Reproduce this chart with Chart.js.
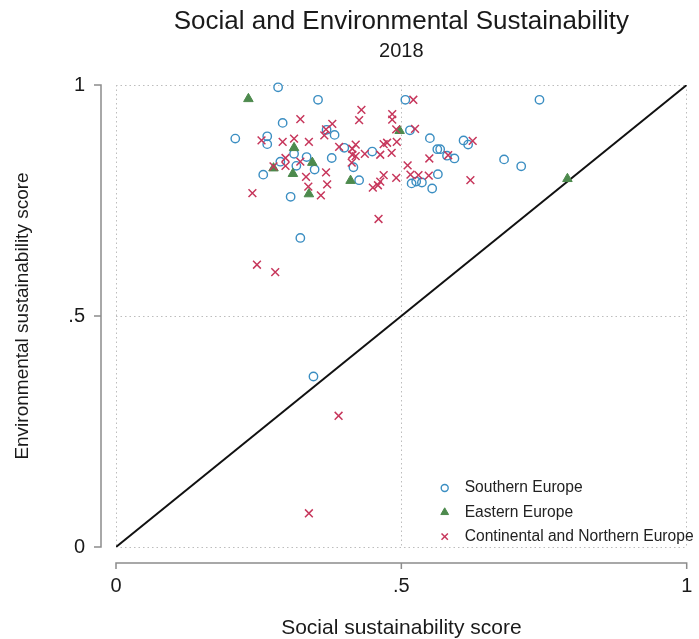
<!DOCTYPE html>
<html>
<head>
<meta charset="utf-8">
<script src="https://cdn.jsdelivr.net/npm/chart.js@4.4.0/dist/chart.umd.min.js"></script>
<style>
  html, body { margin: 0; padding: 0; background: #fff; }
  #wrap { width: 699px; height: 639px; }
</style>
</head>
<body>
<div id="wrap"><canvas id="scatter"></canvas></div>
<script>
// Southern Europe
const southernX = [0.284, 0.354, 0.507, 0.742, 0.292, 0.515, 0.369, 0.383, 0.209, 0.265,
                   0.265, 0.550, 0.609, 0.617, 0.400, 0.563, 0.568, 0.449, 0.312, 0.334,
                   0.378, 0.580, 0.593, 0.680, 0.710, 0.288, 0.316, 0.348, 0.416, 0.258,
                   0.426, 0.518, 0.526, 0.536, 0.564, 0.554, 0.306, 0.323, 0.346];
const southernY = [0.995, 0.968, 0.968, 0.968, 0.918, 0.902, 0.903, 0.892, 0.884, 0.889,
                   0.872, 0.885, 0.880, 0.871, 0.864, 0.861, 0.861, 0.856, 0.851, 0.844,
                   0.842, 0.847, 0.841, 0.839, 0.824, 0.834, 0.825, 0.817, 0.822, 0.806,
                   0.794, 0.787, 0.791, 0.789, 0.807, 0.776, 0.758, 0.669, 0.369];

// Eastern Europe
const easternX = [0.232, 0.312, 0.344, 0.310, 0.497, 0.411, 0.338, 0.791, 0.276];
const easternY = [0.970, 0.864, 0.832, 0.808, 0.901, 0.793, 0.764, 0.797, 0.820];

// Continental and Northern Europe
const continentalX = [0.521, 0.430, 0.484, 0.484, 0.323, 0.426, 0.379, 0.368, 0.365, 0.491,
                      0.524, 0.255, 0.292, 0.312, 0.338, 0.391, 0.420, 0.414, 0.469, 0.475,
                      0.492, 0.625, 0.483, 0.463, 0.414, 0.420, 0.436, 0.549, 0.582, 0.297,
                      0.323, 0.276, 0.297, 0.413, 0.511, 0.368, 0.333, 0.370, 0.337, 0.359,
                      0.239, 0.469, 0.491, 0.516, 0.530, 0.548, 0.621, 0.450, 0.459, 0.463,
                      0.460, 0.247, 0.279, 0.390, 0.338];
const continentalY = [0.968, 0.946, 0.937, 0.925, 0.926, 0.924, 0.916, 0.904, 0.891, 0.904,
                      0.905, 0.880, 0.877, 0.884, 0.877, 0.866, 0.871, 0.862, 0.872, 0.875,
                      0.877, 0.879, 0.853, 0.849, 0.849, 0.846, 0.851, 0.841, 0.848, 0.842,
                      0.834, 0.824, 0.825, 0.832, 0.826, 0.811, 0.801, 0.785, 0.780, 0.761,
                      0.766, 0.805, 0.799, 0.806, 0.805, 0.804, 0.794, 0.778, 0.783, 0.791,
                      0.710, 0.611, 0.595, 0.284, 0.073];

// 45 degree reference line
const diagX = [0, 1];
const diagY = [0, 1];

const axisTicks = [0, 0.5, 1];
const tickLabels = ['0', '.5', '1'];

const FONT = "'Liberation Sans', Arial, sans-serif";

function toPoints(xs, ys) {
    return xs.map((v, i) => ({x: v, y: ys[i]}));
}

// Stata style axes, drawn a little away from the plot region
const offsetAxes = {
    id: 'offsetAxes',
    afterDraw(chart) {
        const {ctx, chartArea, scales: {x, y}} = chart;
        const axisX = chartArea.left - 15;
        const axisY = chartArea.bottom + 16;
        ctx.save();
        ctx.strokeStyle = '#8c8c8c';
        ctx.lineWidth = 1.5;
        ctx.beginPath();
        ctx.moveTo(axisX, y.getPixelForValue(0));
        ctx.lineTo(axisX, y.getPixelForValue(1));
        axisTicks.forEach(v => {
            const py = y.getPixelForValue(v);
            ctx.moveTo(axisX + 0.75, py);
            ctx.lineTo(axisX - 7, py);
        });
        ctx.moveTo(x.getPixelForValue(0), axisY);
        ctx.lineTo(x.getPixelForValue(1), axisY);
        axisTicks.forEach(v => {
            const px = x.getPixelForValue(v);
            ctx.moveTo(px, axisY - 0.75);
            ctx.lineTo(px, axisY + 6);
        });
        ctx.stroke();
        ctx.restore();
    }
};

// legend inside the plot, bottom right
const cornerLegend = {
    id: 'cornerLegend',
    afterDraw(chart) {
        const {ctx, chartArea} = chart;
        const markerX = chartArea.right - 242;
        const textX = chartArea.right - 222;
        let rowY = chartArea.bottom - 59;
        ctx.save();
        chart.data.datasets.filter(ds => ds.legendRadius).forEach(ds => {
            ctx.fillStyle = ds.backgroundColor;
            ctx.strokeStyle = ds.borderColor;
            ctx.lineWidth = ds.borderWidth;
            Chart.helpers.drawPoint(ctx, {
                pointStyle: ds.pointStyle,
                radius: ds.legendRadius,
                borderWidth: ds.borderWidth,
                rotation: 0
            }, markerX, rowY);
            ctx.fillStyle = '#222';
            ctx.font = '15.6px ' + FONT;
            ctx.textAlign = 'left';
            ctx.textBaseline = 'middle';
            ctx.fillText(ds.label, textX, rowY);
            rowY += 24.3;
        });
        ctx.restore();
    }
};

new Chart(document.getElementById('scatter'), {
    type: 'scatter',
    data: {
        datasets: [
            {
                label: 'Southern Europe',
                data: toPoints(southernX, southernY),
                pointStyle: 'circle',
                pointRadius: 4.2,
                borderColor: '#3b8ec2',
                backgroundColor: 'rgba(0,0,0,0)',
                borderWidth: 1.4,
                legendRadius: 3.5,
                clip: false,
                order: 3
            },
            {
                label: 'Eastern Europe',
                data: toPoints(easternX, easternY),
                pointStyle: 'triangle',
                pointRadius: 5.5,
                borderColor: '#4d8a4d',
                backgroundColor: '#4d8a4d',
                borderWidth: 1,
                legendRadius: 4.5,
                clip: false,
                order: 2
            },
            {
                label: 'Continental and Northern Europe',
                data: toPoints(continentalX, continentalY),
                pointStyle: 'crossRot',
                pointRadius: 5.5,
                borderColor: '#c7375c',
                backgroundColor: '#c7375c',
                borderWidth: 1.5,
                legendRadius: 4.5,
                clip: false,
                order: 1
            },
            {
                type: 'line',
                label: 'diagonal',
                data: toPoints(diagX, diagY),
                borderColor: '#111',
                borderWidth: 2,
                pointRadius: 0,
                fill: false,
                order: 4
            }
        ]
    },
    options: {
        responsive: true,
        maintainAspectRatio: false,
        animation: false,
        events: [],
        layout: {
            padding: {left: 0, right: 12.3, top: 0, bottom: 0}
        },
        plugins: {
            legend: {display: false},
            tooltip: {enabled: false},
            title: {
                display: true,
                fullSize: false,
                text: 'Social and Environmental Sustainability',
                color: '#1a1a1a',
                font: {family: FONT, size: 26, weight: 'normal', lineHeight: 1.2},
                padding: {top: 6.5, bottom: 0}
            },
            subtitle: {
                display: true,
                fullSize: false,
                text: '2018',
                color: '#1a1a1a',
                font: {family: FONT, size: 20, weight: 'normal', lineHeight: 1.2},
                padding: {top: 2, bottom: 21.3}
            }
        },
        scales: {
            x: {
                type: 'linear',
                min: 0,
                max: 1,
                afterBuildTicks: s => { s.ticks = axisTicks.map(v => ({value: v})); },
                afterFit: s => { s.height = 92; },
                border: {display: false, dash: [1.5, 3]},
                grid: {color: '#bdbdbd', lineWidth: 1, drawTicks: true, tickLength: 27, tickColor: 'rgba(0,0,0,0)'},
                ticks: {
                    padding: 0,
                    color: '#1a1a1a',
                    font: {family: FONT, size: 20},
                    maxRotation: 0,
                    callback: (v, i) => tickLabels[i]
                },
                title: {
                    display: true,
                    text: 'Social sustainability score',
                    color: '#1a1a1a',
                    font: {family: FONT, size: 21, lineHeight: 1},
                    padding: {top: 0, bottom: 0}
                }
            },
            y: {
                type: 'linear',
                min: 0,
                max: 1,
                afterBuildTicks: s => { s.ticks = axisTicks.map(v => ({value: v})); },
                afterFit: s => { s.width = 116; },
                border: {display: false, dash: [1.5, 3]},
                grid: {color: '#bdbdbd', lineWidth: 1, drawTicks: true, tickLength: 31, tickColor: 'rgba(0,0,0,0)'},
                ticks: {
                    padding: 0,
                    color: '#1a1a1a',
                    font: {family: FONT, size: 20},
                    callback: (v, i) => tickLabels[i]
                },
                title: {
                    display: true,
                    text: 'Environmental sustainability score',
                    color: '#1a1a1a',
                    font: {family: FONT, size: 19, lineHeight: 1.2},
                    padding: {top: 11, bottom: 0}
                }
            }
        }
    },
    plugins: [offsetAxes, cornerLegend]
});
</script>
</body>
</html>
